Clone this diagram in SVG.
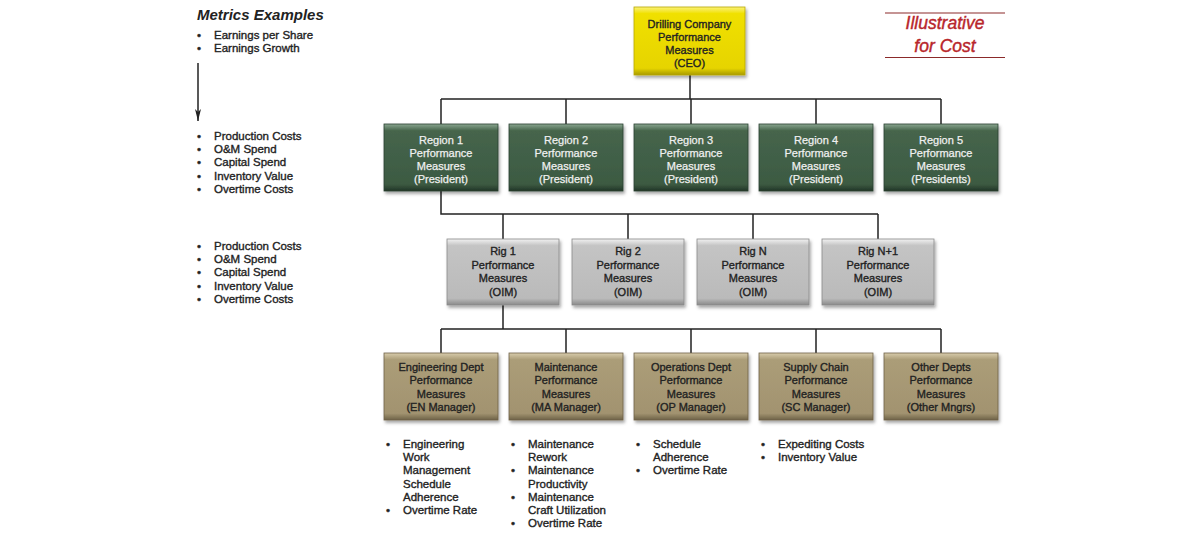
<svg xmlns="http://www.w3.org/2000/svg" width="1200" height="536" viewBox="0 0 1200 536">
<style>
  .t { font-family: "Liberation Sans", Arial, sans-serif; font-size: 11px; text-anchor: middle; fill: #222; stroke: #222; stroke-width: 0.35; }
  .tw { fill: #f0f0f0; stroke: #f0f0f0; stroke-width: 0.25; }
  .l { font-family: "Liberation Sans", Arial, sans-serif; font-size: 11.5px; fill: #222; stroke: #222; stroke-width: 0.35; }
  .h { font-family: "Liberation Sans", Arial, sans-serif; font-size: 15px; font-weight: bold; font-style: italic; fill: #222; }
  .ill { font-family: "Liberation Sans", Arial, sans-serif; font-size: 17.5px; font-style: italic; fill: #b8262b; stroke: #b8262b; stroke-width: 0.4; text-anchor: middle; }
  .c { fill: none; stroke: #222; stroke-width: 1.5; }
</style>
<defs>
  <filter id="sh" x="-10%" y="-10%" width="125%" height="130%">
    <feDropShadow dx="1.5" dy="2.5" stdDeviation="1.8" flood-color="#000" flood-opacity="0.35"/>
  </filter>
  <linearGradient id="gY" x1="0" y1="0" x2="0" y2="1"><stop offset="0" stop-color="#fbf27a"/><stop offset="0.1" stop-color="#f0e000"/><stop offset="0.9" stop-color="#e6d400"/><stop offset="1" stop-color="#a89a00"/></linearGradient>
  <linearGradient id="gG" x1="0" y1="0" x2="0" y2="1"><stop offset="0" stop-color="#8aa690"/><stop offset="0.1" stop-color="#46654c"/><stop offset="0.9" stop-color="#3c5a42"/><stop offset="1" stop-color="#223626"/></linearGradient>
  <linearGradient id="gS" x1="0" y1="0" x2="0" y2="1"><stop offset="0" stop-color="#f2f2f2"/><stop offset="0.1" stop-color="#c4c4c4"/><stop offset="0.9" stop-color="#bababa"/><stop offset="1" stop-color="#8a8a8a"/></linearGradient>
  <linearGradient id="gT" x1="0" y1="0" x2="0" y2="1"><stop offset="0" stop-color="#d8ccac"/><stop offset="0.1" stop-color="#ab9d78"/><stop offset="0.9" stop-color="#a29370"/><stop offset="1" stop-color="#6e6248"/></linearGradient>
  <marker id="ar" viewBox="0 0 12 6" refX="12" refY="3" markerWidth="12" markerHeight="6" markerUnits="userSpaceOnUse" orient="auto">
    <path d="M0,0 L12,3 L0,6 L3,3 Z" fill="#222"/>
  </marker>
</defs>
<rect width="1200" height="536" fill="#fff"/>

<!-- Left metrics column -->
<g id="metrics">
  <text class="h" x="197" y="20">Metrics Examples</text>
  <text class="l" x="197" y="39">•</text><text class="l" x="214" y="39">Earnings per Share</text>
  <text class="l" x="197" y="52">•</text><text class="l" x="214" y="52">Earnings Growth</text>
  <line x1="198" y1="63" x2="198" y2="121" stroke="#222" stroke-width="1.5" marker-end="url(#ar)"/>
  <text class="l" x="197" y="140">•</text><text class="l" x="214" y="140">Production Costs</text>
  <text class="l" x="197" y="153">•</text><text class="l" x="214" y="153">O&amp;M Spend</text>
  <text class="l" x="197" y="166">•</text><text class="l" x="214" y="166">Capital Spend</text>
  <text class="l" x="197" y="180">•</text><text class="l" x="214" y="180">Inventory Value</text>
  <text class="l" x="197" y="193">•</text><text class="l" x="214" y="193">Overtime Costs</text>
  <text class="l" x="197" y="250">•</text><text class="l" x="214" y="250">Production Costs</text>
  <text class="l" x="197" y="263">•</text><text class="l" x="214" y="263">O&amp;M Spend</text>
  <text class="l" x="197" y="276">•</text><text class="l" x="214" y="276">Capital Spend</text>
  <text class="l" x="197" y="290">•</text><text class="l" x="214" y="290">Inventory Value</text>
  <text class="l" x="197" y="303">•</text><text class="l" x="214" y="303">Overtime Costs</text>
</g>

<!-- Illustrative label -->
<g id="illustrative">
  <line x1="885" y1="13" x2="1005" y2="13" stroke="#8b2a2a" stroke-width="1.2"/>
  <text class="ill" x="945" y="29">Illustrative</text>
  <text class="ill" x="945" y="52">for Cost</text>
  <line x1="885" y1="57.5" x2="1005" y2="57.5" stroke="#8b2a2a" stroke-width="1.2"/>
</g>

<!-- Connectors -->
<g id="connectors">
  <path class="c" d="M690,75 V99 M441,99 H941 M441,99 V124 M566,99 V124 M691,99 V124 M816,99 V124 M941,99 V124"/>
  <path class="c" d="M441,191 V214 H878 M503,214 V239 M628,214 V239 M753,214 V239 M878,214 V239"/>
  <path class="c" d="M503,305 V329 M441,329 H941 M441,329 V353 M566,329 V353 M691,329 V353 M816,329 V353 M941,329 V353"/>
</g>

<!-- CEO -->
<g id="ceo">
  <rect x="634" y="7" width="111" height="68" fill="url(#gY)" stroke="#b8a800" stroke-width="0.8" filter="url(#sh)"/>
  <text class="t" x="689.5" y="27.5">Drilling Company</text>
  <text class="t" x="689.5" y="40.5">Performance</text>
  <text class="t" x="689.5" y="53.5">Measures</text>
  <text class="t" x="689.5" y="66.5">(CEO)</text>
</g>

<!-- Regions -->
<g id="region1">
  <rect x="384" y="124" width="114" height="67" fill="url(#gG)" stroke="#2a4030" stroke-width="0.8" filter="url(#sh)"/>
  <text class="t tw" x="441" y="143.5">Region 1</text><text class="t tw" x="441" y="156.5">Performance</text><text class="t tw" x="441" y="169.5">Measures</text><text class="t tw" x="441" y="182.5">(President)</text>
</g>
<g id="region2">
  <rect x="509" y="124" width="114" height="67" fill="url(#gG)" stroke="#2a4030" stroke-width="0.8" filter="url(#sh)"/>
  <text class="t tw" x="566" y="143.5">Region 2</text><text class="t tw" x="566" y="156.5">Performance</text><text class="t tw" x="566" y="169.5">Measures</text><text class="t tw" x="566" y="182.5">(President)</text>
</g>
<g id="region3">
  <rect x="634" y="124" width="114" height="67" fill="url(#gG)" stroke="#2a4030" stroke-width="0.8" filter="url(#sh)"/>
  <text class="t tw" x="691" y="143.5">Region 3</text><text class="t tw" x="691" y="156.5">Performance</text><text class="t tw" x="691" y="169.5">Measures</text><text class="t tw" x="691" y="182.5">(President)</text>
</g>
<g id="region4">
  <rect x="759" y="124" width="114" height="67" fill="url(#gG)" stroke="#2a4030" stroke-width="0.8" filter="url(#sh)"/>
  <text class="t tw" x="816" y="143.5">Region 4</text><text class="t tw" x="816" y="156.5">Performance</text><text class="t tw" x="816" y="169.5">Measures</text><text class="t tw" x="816" y="182.5">(President)</text>
</g>
<g id="region5">
  <rect x="884" y="124" width="114" height="67" fill="url(#gG)" stroke="#2a4030" stroke-width="0.8" filter="url(#sh)"/>
  <text class="t tw" x="941" y="143.5">Region 5</text><text class="t tw" x="941" y="156.5">Performance</text><text class="t tw" x="941" y="169.5">Measures</text><text class="t tw" x="941" y="182.5">(Presidents)</text>
</g>

<!-- Rigs -->
<g id="rig1">
  <rect x="447" y="239" width="112" height="66" fill="url(#gS)" stroke="#8a8a8a" stroke-width="0.8" filter="url(#sh)"/>
  <text class="t" x="503" y="255">Rig 1</text><text class="t" x="503" y="268.5">Performance</text><text class="t" x="503" y="282">Measures</text><text class="t" x="503" y="295.5">(OIM)</text>
</g>
<g id="rig2">
  <rect x="572" y="239" width="112" height="66" fill="url(#gS)" stroke="#8a8a8a" stroke-width="0.8" filter="url(#sh)"/>
  <text class="t" x="628" y="255">Rig 2</text><text class="t" x="628" y="268.5">Performance</text><text class="t" x="628" y="282">Measures</text><text class="t" x="628" y="295.5">(OIM)</text>
</g>
<g id="rigN">
  <rect x="697" y="239" width="112" height="66" fill="url(#gS)" stroke="#8a8a8a" stroke-width="0.8" filter="url(#sh)"/>
  <text class="t" x="753" y="255">Rig N</text><text class="t" x="753" y="268.5">Performance</text><text class="t" x="753" y="282">Measures</text><text class="t" x="753" y="295.5">(OIM)</text>
</g>
<g id="rigN1">
  <rect x="822" y="239" width="112" height="66" fill="url(#gS)" stroke="#8a8a8a" stroke-width="0.8" filter="url(#sh)"/>
  <text class="t" x="878" y="255">Rig N+1</text><text class="t" x="878" y="268.5">Performance</text><text class="t" x="878" y="282">Measures</text><text class="t" x="878" y="295.5">(OIM)</text>
</g>

<!-- Departments -->
<g id="dept-en">
  <rect x="384" y="353" width="114" height="67" fill="url(#gT)" stroke="#6e6248" stroke-width="0.8" filter="url(#sh)"/>
  <text class="t" x="441" y="371">Engineering Dept</text><text class="t" x="441" y="384">Performance</text><text class="t" x="441" y="397.5">Measures</text><text class="t" x="441" y="411">(EN Manager)</text>
</g>
<g id="dept-ma">
  <rect x="509" y="353" width="114" height="67" fill="url(#gT)" stroke="#6e6248" stroke-width="0.8" filter="url(#sh)"/>
  <text class="t" x="566" y="371">Maintenance</text><text class="t" x="566" y="384">Performance</text><text class="t" x="566" y="397.5">Measures</text><text class="t" x="566" y="411">(MA Manager)</text>
</g>
<g id="dept-op">
  <rect x="634" y="353" width="114" height="67" fill="url(#gT)" stroke="#6e6248" stroke-width="0.8" filter="url(#sh)"/>
  <text class="t" x="691" y="371">Operations Dept</text><text class="t" x="691" y="384">Performance</text><text class="t" x="691" y="397.5">Measures</text><text class="t" x="691" y="411">(OP Manager)</text>
</g>
<g id="dept-sc">
  <rect x="759" y="353" width="114" height="67" fill="url(#gT)" stroke="#6e6248" stroke-width="0.8" filter="url(#sh)"/>
  <text class="t" x="816" y="371">Supply Chain</text><text class="t" x="816" y="384">Performance</text><text class="t" x="816" y="397.5">Measures</text><text class="t" x="816" y="411">(SC Manager)</text>
</g>
<g id="dept-other">
  <rect x="884" y="353" width="114" height="67" fill="url(#gT)" stroke="#6e6248" stroke-width="0.8" filter="url(#sh)"/>
  <text class="t" x="941" y="371">Other Depts</text><text class="t" x="941" y="384">Performance</text><text class="t" x="941" y="397.5">Measures</text><text class="t" x="941" y="411">(Other Mngrs)</text>
</g>

<!-- Department metric lists -->
<g id="list-en">
  <text class="l" x="386" y="448">•</text><text class="l" x="403" y="448">Engineering</text>
  <text class="l" x="403" y="461">Work</text>
  <text class="l" x="403" y="474">Management</text>
  <text class="l" x="403" y="487.5">Schedule</text>
  <text class="l" x="403" y="501">Adherence</text>
  <text class="l" x="386" y="514">•</text><text class="l" x="403" y="514">Overtime Rate</text>
</g>
<g id="list-ma">
  <text class="l" x="511" y="448">•</text><text class="l" x="528" y="448">Maintenance</text>
  <text class="l" x="528" y="461">Rework</text>
  <text class="l" x="511" y="474">•</text><text class="l" x="528" y="474">Maintenance</text>
  <text class="l" x="528" y="487.5">Productivity</text>
  <text class="l" x="511" y="501">•</text><text class="l" x="528" y="501">Maintenance</text>
  <text class="l" x="528" y="514">Craft Utilization</text>
  <text class="l" x="511" y="527">•</text><text class="l" x="528" y="527">Overtime Rate</text>
</g>
<g id="list-op">
  <text class="l" x="636" y="448">•</text><text class="l" x="653" y="448">Schedule</text>
  <text class="l" x="653" y="461">Adherence</text>
  <text class="l" x="636" y="474">•</text><text class="l" x="653" y="474">Overtime Rate</text>
</g>
<g id="list-sc">
  <text class="l" x="761" y="448">•</text><text class="l" x="778" y="448">Expediting Costs</text>
  <text class="l" x="761" y="461">•</text><text class="l" x="778" y="461">Inventory Value</text>
</g>
</svg>
